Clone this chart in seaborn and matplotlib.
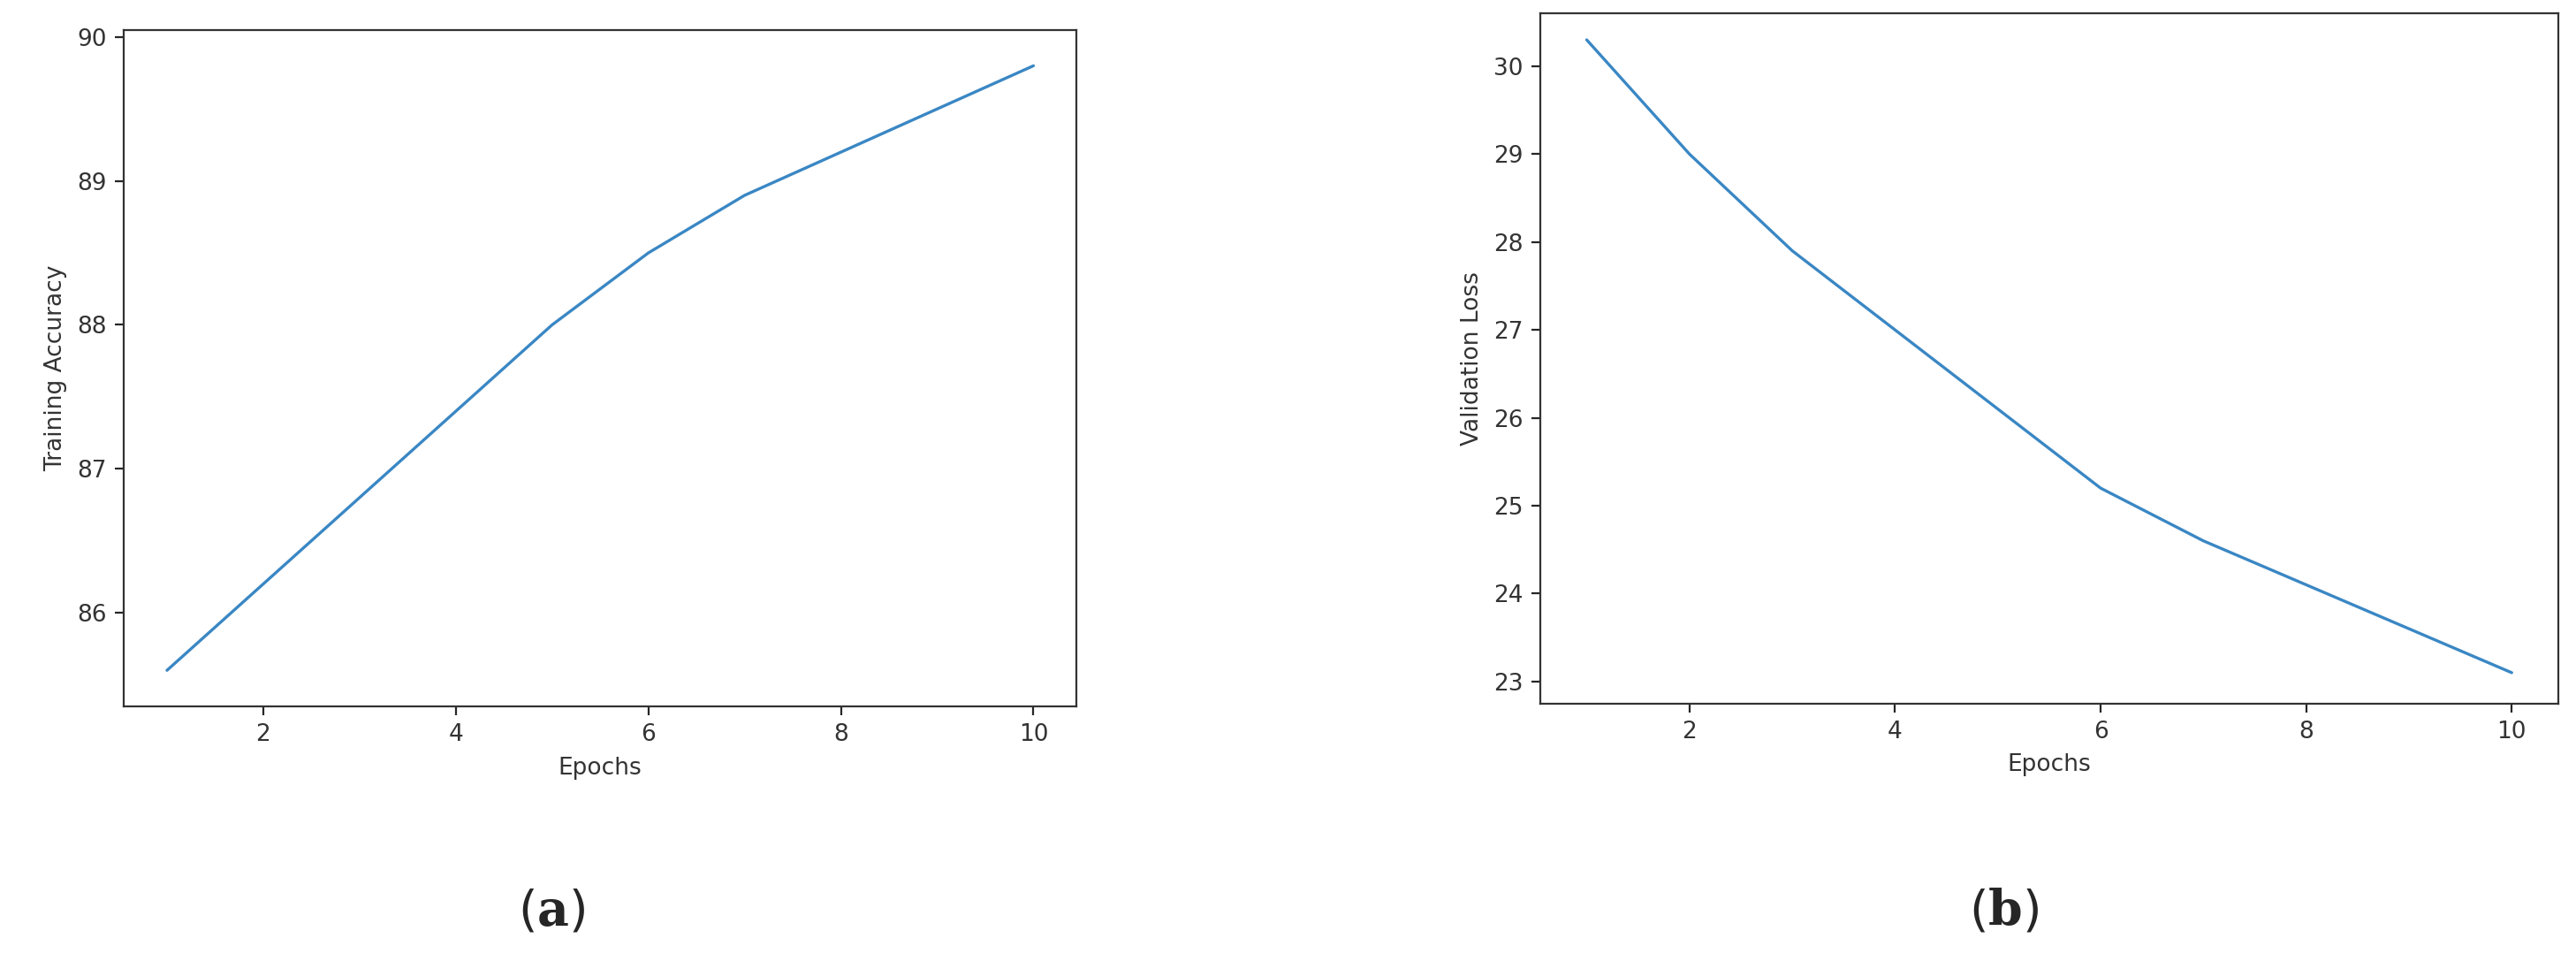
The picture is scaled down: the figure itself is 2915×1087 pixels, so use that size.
import numpy as np
import pandas as pd
import seaborn as sns
import matplotlib.pyplot as plt

# values
epochs = [1, 2, 3, 4, 5, 6, 7, 8, 9, 10]
train_acc = [85.6, 86.2, 86.8, 87.4, 88.0, 88.5, 88.9, 89.2, 89.5, 89.8]
val_loss = [30.3, 29.0, 27.9, 27.0, 26.1, 25.2, 24.6, 24.1, 23.6, 23.1]

sns.set_style('ticks')
plt.rcParams['font.family'] = ['DejaVu Sans']
plt.rcParams['mathtext.fontset'] = 'dejavuserif'

df = pd.DataFrame({'Epochs': epochs, 'acc': train_acc, 'loss': val_loss})
line_col = '#3a87c4'

fig = plt.figure(figsize=(14.575, 5.435), dpi=200)
ax1 = fig.add_axes([0.048, 0.265, 0.370, 0.704])
ax2 = fig.add_axes([0.598, 0.268, 0.395, 0.718])

sns.lineplot(data=df, x='Epochs', y='acc', ax=ax1, color=line_col, linewidth=1.2)
sns.lineplot(data=df, x='Epochs', y='loss', ax=ax2, color=line_col, linewidth=1.2)

ax1.set_ylabel('Training Accuracy', fontsize=9.5, color='#333333')
ax2.set_ylabel('Validation Loss', fontsize=9.5, color='#333333')
ax1.set_ylim(85.35, 90.05)
ax2.set_ylim(22.75, 30.6)
for ax in (ax1, ax2):
    ax.set_xlabel('Epochs', fontsize=9.5, color='#333333')
    ax.set_xlim(0.55, 10.45)
    ax.set_xticks([2, 4, 6, 8, 10])
    ax.tick_params(labelsize=9.5, labelcolor='#333333')
    for s in ax.spines.values():
        s.set_color('#333333')
        s.set_linewidth(0.8)

fig.text(0.214, 0.051, r'($\mathbf{a}$)', fontsize=20, ha='center', va='center')
fig.text(0.778, 0.051, r'($\mathbf{b}$)', fontsize=20, ha='center', va='center')

fig.savefig('out.png', dpi=200)
